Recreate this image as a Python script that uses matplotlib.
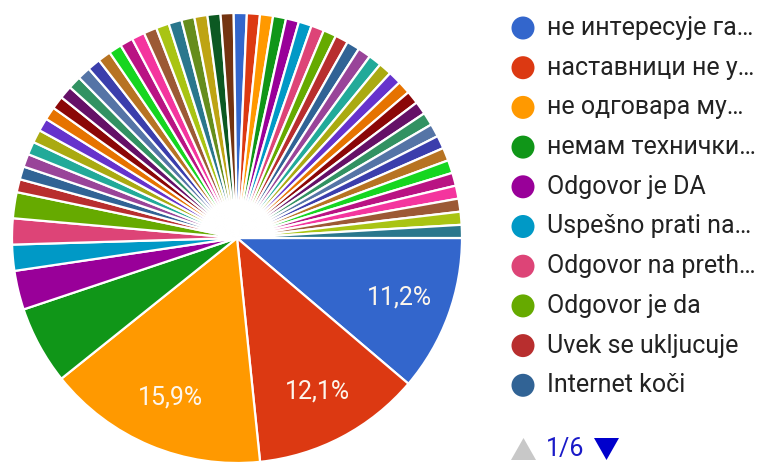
import matplotlib
matplotlib.use("Agg")
import matplotlib.pyplot as plt
from matplotlib.patches import Circle, Polygon

plt.rcParams['font.family'] = ['Roboto', 'DejaVu Sans']

# Responses (N = 107): 8 larger answers followed by 50 single answers
values = [12, 13, 17, 6, 3, 2, 2, 2] + [1] * 50
legend_labels = [
    "не интересује га…",
    "наставници не у…",
    "не одговара му…",
    "немам технички…",
    "Odgovor je DA",
    "Uspešno prati na…",
    "Odgovor na preth…",
    "Odgovor je da",
    "Uvek se ukljucuje",
    "Internet koči",
]
page_text = "1/6"

palette = ['#3366cc', '#dc3912', '#ff9900', '#109618', '#990099', '#0099c6',
           '#dd4477', '#66aa00', '#b82e2e', '#316395', '#994499', '#22aa99',
           '#aaaa11', '#6633cc', '#e67300', '#8b0707', '#651067', '#329262',
           '#5574a6', '#3b3eac', '#b77322', '#16d620', '#b91383', '#f4359e',
           '#9c5935', '#a9c413', '#2a778d', '#668d1c', '#bea413', '#0c5922',
           '#743411']
colors = [palette[i % len(palette)] for i in range(len(values))]

W, H = 760, 462
fig = plt.figure(figsize=(W / 100, H / 100), dpi=100)
ax = fig.add_axes([0, 0, 1, 1])

def fmt(p):
    if p >= 10:
        return ("%.1f%%" % p).replace(".", ",")
    return ""

wedges, texts, autotexts = ax.pie(
    values, colors=colors, startangle=0, counterclock=False,
    center=(237, H - 238), radius=225,
    autopct=fmt, pctdistance=0.77,
    wedgeprops=dict(edgecolor='white', linewidth=1.6),
    textprops=dict(color='#fdf6ec', fontsize=18),
)

ax.set_xlim(0, W)
ax.set_ylim(0, H)
ax.set_aspect('equal')
ax.axis('off')

# Legend (page 1)
y0, dy = 28, 39.7
for i, lab in enumerate(legend_labels):
    y = H - (y0 + i * dy)
    ax.add_patch(Circle((523, y), 11.5, color=colors[i], lw=0))
    ax.text(547, y, lab, fontsize=18, color='#222222', va='center', ha='left')

# Pagination
yp = H - 449
ax.add_patch(Polygon([[511, yp - 11], [536, yp - 11], [523.5, yp + 11]],
                     closed=True, color='#c8c8c8', lw=0))
ax.text(546, yp, page_text, fontsize=18, color='#1a1ac8', va='center', ha='left')
ax.add_patch(Polygon([[594, yp + 11], [619, yp + 11], [606.5, yp - 11]],
                     closed=True, color='#0000cc', lw=0))

fig.savefig("out.png", dpi=100)
